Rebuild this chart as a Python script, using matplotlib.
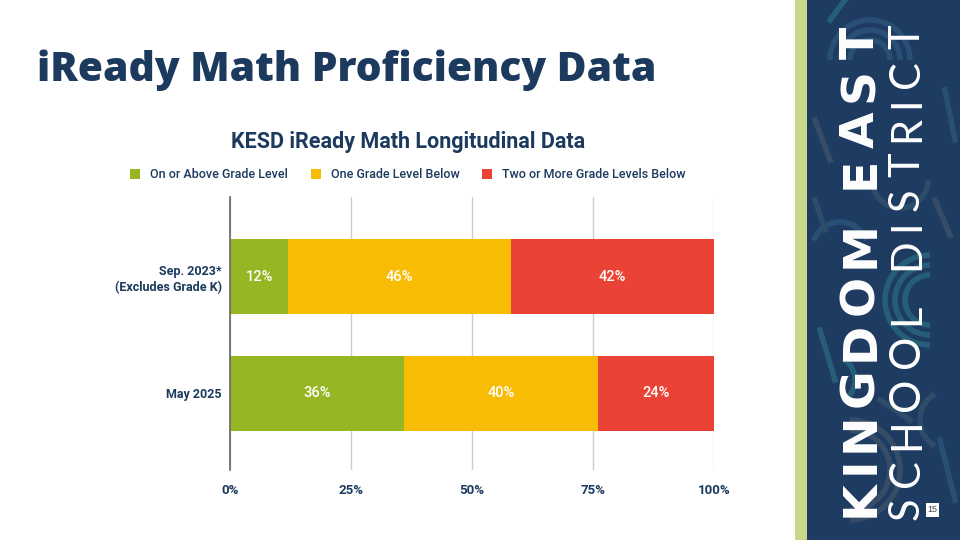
import matplotlib
matplotlib.use("Agg")
import matplotlib.pyplot as plt
from matplotlib.patches import Rectangle, Arc
from matplotlib.lines import Line2D
from matplotlib.textpath import TextPath
from matplotlib.font_manager import FontProperties

# ---- data ----
categories = ["Sep. 2023*\n(Excludes Grade K)", "May 2025"]
series_names = ["On or Above Grade Level", "One Grade Level Below", "Two or More Grade Levels Below"]
on_or_above = [12, 36]
one_below = [46, 40]
two_or_more = [42, 24]
x_ticks = [0, 25, 50, 75, 100]
x_tick_labels = ["0%", "25%", "50%", "75%", "100%"]

colors = ["#97b624", "#f9bc05", "#ea4335"]
navy = "#1c3a5e"
W, H = 960, 540

fig = plt.figure(figsize=(9.6, 5.4), dpi=100)
fig.patch.set_facecolor("white")

# ---- right decorative panel ----
deco = fig.add_axes([795 / W, 0, (W - 795) / W, 1], zorder=1)
deco.set_xlim(795, 960)
deco.set_ylim(540, 0)
deco.axis("off")
deco.add_patch(Rectangle((807, 0), 153, 540, facecolor="#1e3b61", edgecolor="none", zorder=0))
deco_col = ["#2b5277", "#3a5068", "#27617a", "#2f4f6b"]
for (cx, cy, r, t1, t2, c) in [
        (870, 60, 40, 180, 360, 0), (870, 60, 30, 180, 360, 0), (870, 60, 20, 180, 360, 0),
        (930, 300, 45, 90, 270, 2), (930, 300, 35, 90, 270, 2), (930, 300, 25, 90, 270, 2),
        (850, 470, 50, 270, 90, 1), (850, 470, 40, 270, 90, 1),
        (900, 180, 28, 0, 180, 3), (840, 250, 28, 200, 340, 0),
        (950, 420, 30, 120, 240, 3), (830, 380, 25, 300, 60, 2)]:
    deco.add_patch(Arc((cx, cy), 2 * r, 2 * r, theta1=t1, theta2=t2,
                       color=deco_col[c], lw=4, alpha=0.9, zorder=1))
for (x0, y0, x1, y1, c) in [(815, 120, 830, 160, 1), (945, 90, 955, 140, 0),
                            (820, 330, 835, 380, 2), (880, 400, 910, 420, 3),
                            (940, 440, 955, 500, 0), (830, 20, 845, 0, 2),
                            (815, 200, 825, 230, 3), (935, 200, 950, 235, 1)]:
    deco.add_line(Line2D([x0, x1], [y0, y1], color=deco_col[c], lw=4, alpha=0.9, zorder=1))
deco.add_patch(Rectangle((795, 0), 12, 540, facecolor="#c9d78b", edgecolor="none", zorder=3))


def tracked_vertical(text, xc, y_bottom, y_top, fp, fs_pt, color):
    # place characters rotated 90 deg from bottom to top with uniform tracking
    scale = 100 / 72.0
    widths = []
    for ch in text:
        if ch == " ":
            widths.append(fs_pt * scale * 0.3)
        else:
            tp = TextPath((0, 0), ch, size=fs_pt * scale, prop=fp)
            widths.append(tp.get_extents().width)
    total = y_bottom - y_top
    gap = (total - sum(widths)) / (len(text) - 1)
    pos = y_bottom
    for ch, w in zip(text, widths):
        if ch != " ":
            fig.text(xc / W, 1 - (pos - w / 2) / H, ch, rotation=90, fontproperties=fp,
                     fontsize=fs_pt, color=color, ha="center", va="center", zorder=5)
        pos -= w + gap


fp_bold = FontProperties(family="DejaVu Sans", weight="bold")
fp_thin = FontProperties(family="Lato", weight="normal")
tracked_vertical("KINGDOM EAST", 861, 516, 27, fp_bold, 34, "white")
tracked_vertical("SCHOOL DISTRICT", 907, 518, 25, fp_thin, 30, "white")

# page number
fig.patches.append(Rectangle((926 / W, 1 - 517 / H), 13 / W, 14 / H, transform=fig.transFigure,
                             facecolor="white", edgecolor="none", zorder=6))
fig.text(932.5 / W, 1 - 510 / H, "15", fontsize=6.5, color="#444444", ha="center", va="center",
         family="Liberation Sans", zorder=7)

# ---- titles ----
fig.text(37 / W, 1 - 70 / H, "iReady Math Proficiency Data", family="Open Sans", weight=800,
         fontsize=29.3, color=navy, ha="left", va="center")
fig.text(408 / W, 1 - 142 / H, "KESD iReady Math Longitudinal Data", family="Roboto",
         weight="bold", fontsize=15.5, color=navy, ha="center", va="center")

# ---- chart ----
ax = fig.add_axes([230 / W, 1 - 470 / H, (714 - 230) / W, (470 - 197) / H])
ypos = list(range(len(categories)))
left = [0] * len(categories)
for name, vals, col in zip(series_names, [on_or_above, one_below, two_or_more], colors):
    bars = ax.barh(ypos, vals, left=left, height=0.64, color=col, label=name, zorder=3)
    ax.bar_label(bars, labels=[f"{v}%" for v in vals], label_type="center", color="white",
                 fontsize=10.5, family="Roboto", weight="medium")
    left = [l + v for l, v in zip(left, vals)]

ax.set_xlim(0, 100)
ax.set_ylim(1.655, -0.68)
ax.set_xticks(x_ticks)
ax.set_xticklabels(x_tick_labels, family="Roboto", weight="bold", fontsize=9.5, color=navy)
ax.set_yticks(ypos)
ax.set_yticklabels(categories, family="Roboto", weight="bold", fontsize=9, color=navy,
                   linespacing=1.25)
ax.tick_params(length=0, pad=6)
ax.tick_params(axis="x", pad=10)
ax.xaxis.grid(True, color="#cccccc", lw=1, zorder=0)
for s in ["top", "right", "bottom"]:
    ax.spines[s].set_visible(False)
ax.spines["left"].set_color("#666666")
ax.spines["left"].set_linewidth(1.2)
ax.spines["left"].set_zorder(4)

handles = [Rectangle((0, 0), 1, 1, facecolor=c) for c in colors]
fig.legend(handles, series_names, loc="center", bbox_to_anchor=(408 / W, 1 - 175 / H),
           ncol=3, frameon=False, handlelength=0.8, handleheight=0.8, handletextpad=0.8,
           columnspacing=1.8, prop=FontProperties(family="Roboto", weight="medium", size=9.0),
           labelcolor=navy)

fig.savefig("out.png", dpi=100, facecolor="white")
